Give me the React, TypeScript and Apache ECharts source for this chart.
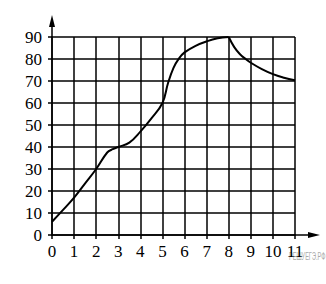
import React, { useEffect, useRef } from "react";
import * as echarts from "echarts";

const xTicks = [0, 1, 2, 3, 4, 5, 6, 7, 8, 9, 10, 11];
const yTicks = [0, 10, 20, 30, 40, 50, 60, 70, 80, 90];

const riseX = [0, 0.5, 1, 1.5, 2, 2.5, 2.75, 3, 3.5, 4, 4.5, 5, 5.25, 5.5, 5.75, 6, 6.5, 7, 7.5, 8];
const riseY = [6, 11.4, 17, 23.5, 30, 37.5, 39, 40, 42, 47, 53, 60, 69, 76, 80.3, 83, 86, 88, 89.4, 90];

const fallX = [8, 8.25, 8.5, 8.75, 9, 9.5, 10, 10.5, 11];
const fallY = [90, 85.4, 82.3, 80.1, 78.3, 75.4, 73.1, 71.5, 70.3];

const watermark = "РЕШУЕГЭ.РФ";

export default function App() {
  const ref = useRef<HTMLDivElement>(null);
  useEffect(() => {
    const chart = echarts.init(ref.current!, null, { renderer: "svg" });
    const font = "Times New Roman, Liberation Serif, DejaVu Serif, serif";
    const axisStyle = { color: "#000", width: 1.5 };
    chart.setOption({
      animation: false,
      backgroundColor: "#fff",
      textStyle: { fontFamily: font },
      grid: { left: 52, right: 31, top: 37, bottom: 49 },
      xAxis: {
        type: "value",
        min: xTicks[0],
        max: xTicks[xTicks.length - 1],
        interval: 1,
        axisLine: { show: true, onZero: false, lineStyle: axisStyle },
        axisTick: { show: true, length: 4, lineStyle: axisStyle },
        axisLabel: { color: "#000", fontFamily: font, fontSize: 17, margin: 8 },
        splitLine: { show: true, lineStyle: axisStyle },
      },
      yAxis: {
        type: "value",
        min: yTicks[0],
        max: yTicks[yTicks.length - 1],
        interval: 10,
        axisLine: { show: true, onZero: false, lineStyle: axisStyle },
        axisTick: { show: true, length: 4, lineStyle: axisStyle },
        axisLabel: { color: "#000", fontFamily: font, fontSize: 17, margin: 10 },
        splitLine: { show: true, lineStyle: axisStyle },
      },
      series: [
        {
          type: "line",
          data: riseX.map((x, i) => [x, riseY[i]]),
          smooth: 0.4,
          showSymbol: false,
          lineStyle: { color: "#000", width: 2 },
        },
        {
          type: "line",
          data: fallX.map((x, i) => [x, fallY[i]]),
          smooth: 0.4,
          showSymbol: false,
          lineStyle: { color: "#000", width: 2 },
        },
      ],
    });
    const o = chart.convertToPixel({ gridIndex: 0 }, [xTicks[0], yTicks[0]]) as number[];
    const tr = chart.convertToPixel({ gridIndex: 0 }, [xTicks[xTicks.length - 1], yTicks[yTicks.length - 1]]) as number[];
    const yTip = 15;
    const xTip = 320;
    chart.setOption({
      graphic: [
        { type: "line", shape: { x1: o[0], y1: tr[1], x2: o[0], y2: yTip + 6 }, style: { stroke: "#000", lineWidth: 1.5 } },
        { type: "polygon", shape: { points: [[o[0], yTip], [o[0] - 3, yTip + 12], [o[0] + 3, yTip + 12]] }, style: { fill: "#000" } },
        { type: "line", shape: { x1: tr[0], y1: o[1], x2: xTip - 6, y2: o[1] }, style: { stroke: "#000", lineWidth: 1.5 } },
        { type: "polygon", shape: { points: [[xTip, o[1]], [xTip - 12, o[1] - 3], [xTip - 12, o[1] + 3]] }, style: { fill: "#000" } },
        {
          type: "text",
          x: 289,
          y: 252,
          scaleX: 0.56,
          style: { text: watermark, fill: "#aaa", fontSize: 10, fontFamily: "Liberation Sans" },
        },
      ],
    });
    return () => chart.dispose();
  }, []);
  return <div ref={ref} style={{ width: 326, height: 284, position: "absolute", left: 0, top: 0 }} />;
}
